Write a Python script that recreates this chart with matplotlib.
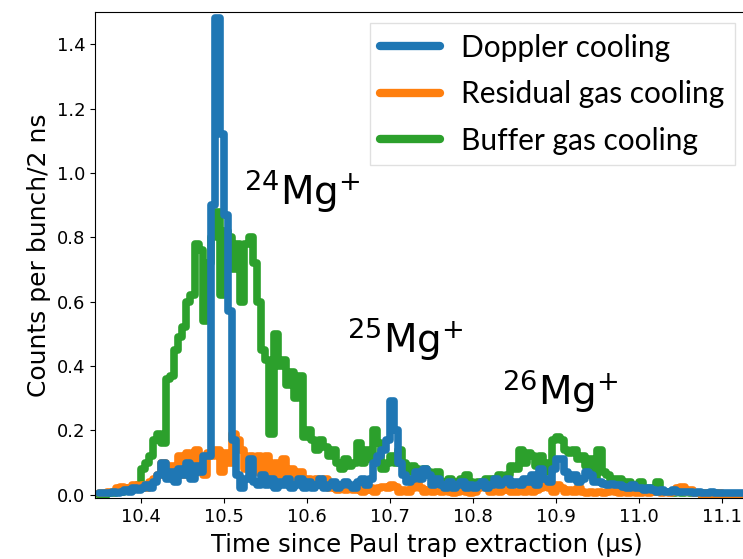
import numpy as np
import matplotlib
matplotlib.use("Agg")
import matplotlib.pyplot as plt

# 5 ns bins starting at 10.350 us
t0, dt = 10.35, 0.005
doppler = [
    0.005, 0.005, 0.005, 0.01, 0.005, 0.01, 0.015, 0.01, 0.02, 0.015,
    0.02, 0.03, 0.02, 0.04, 0.06, 0.10, 0.05, 0.07, 0.04, 0.08,
    0.06, 0.10, 0.05, 0.09, 0.07, 0.12, 0.12, 0.90, 1.48, 1.12,
    0.87, 0.57, 0.17, 0.06, 0.02, 0.05, 0.11, 0.04, 0.03, 0.06,
    0.03, 0.05, 0.02, 0.04, 0.03, 0.05, 0.02, 0.03, 0.05, 0.02,
    0.04, 0.02, 0.03, 0.05, 0.02, 0.03, 0.04, 0.02, 0.03, 0.04,
    0.03, 0.02, 0.04, 0.05, 0.03, 0.05, 0.10, 0.12, 0.14, 0.17,
    0.29, 0.20, 0.10, 0.06, 0.04, 0.05, 0.07, 0.05, 0.08, 0.06,
    0.03, 0.05, 0.03, 0.02, 0.04, 0.02, 0.03, 0.04, 0.02, 0.03,
    0.02, 0.03, 0.04, 0.02, 0.03, 0.05, 0.03, 0.04, 0.05, 0.03,
    0.04, 0.03, 0.05, 0.04, 0.06, 0.03, 0.08, 0.05, 0.04, 0.08,
    0.11, 0.11, 0.07, 0.05, 0.06, 0.04, 0.05, 0.07, 0.06, 0.04,
    0.04, 0.035, 0.03, 0.035, 0.03, 0.03, 0.025, 0.02, 0.03, 0.02,
    0.02, 0.015, 0.02, 0.015, 0.01, 0.015, 0.01, 0.01, 0.015, 0.01,
    0.01, 0.01, 0.01, 0.005, 0.01, 0.005, 0.005, 0.01, 0.005, 0.005,
    0.005, 0.005, 0.005, 0.005, 0.005, 0.005, 0.005, 0.005, 0.005, 0.005,
]
residual = [
    0.005, 0.005, 0.01, 0.01, 0.02, 0.025, 0.02, 0.015, 0.03, 0.025,
    0.03, 0.02, 0.04, 0.05, 0.06, 0.10, 0.07, 0.09, 0.08, 0.12,
    0.06, 0.13, 0.09, 0.14, 0.11, 0.06, 0.13, 0.12, 0.14, 0.07,
    0.13, 0.10, 0.19, 0.17, 0.14, 0.08, 0.12, 0.07, 0.12, 0.06,
    0.12, 0.05, 0.10, 0.06, 0.11, 0.07, 0.08, 0.05, 0.07, 0.04,
    0.05, 0.03, 0.05, 0.04, 0.05, 0.02, 0.03, 0.015, 0.02, 0.015,
    0.02, 0.015, 0.02, 0.01, 0.015, 0.02, 0.01, 0.02, 0.025, 0.02,
    0.03, 0.025, 0.01, 0.015, 0.01, 0.02, 0.045, 0.02, 0.01, 0.015,
    0.01, 0.02, 0.01, 0.015, 0.01, 0.005, 0.01, 0.02, 0.01, 0.005,
    0.01, 0.02, 0.025, 0.02, 0.01, 0.015, 0.01, 0.02, 0.015, 0.01,
    0.01, 0.015, 0.01, 0.02, 0.01, 0.015, 0.02, 0.03, 0.02, 0.01,
    0.03, 0.02, 0.01, 0.015, 0.01, 0.02, 0.01, 0.005, 0.01, 0.005,
    0.01, 0.005, 0.01, 0.02, 0.01, 0.005, 0.01, 0.005, 0.01, 0.005,
    0.005, 0.01, 0.005, 0.01, 0.01, 0.005, 0.01, 0.005, 0.01, 0.02,
    0.025, 0.01, 0.015, 0.005, 0.005, 0.0, 0.005, 0.0, 0.0, 0.005,
    0.0, 0.0, 0.0, 0.0, 0.0, 0.0, 0.0, 0.0, 0.0, 0.0,
]
buffer = [
    0.0, 0.0, 0.005, 0.005, 0.01, 0.01, 0.015, 0.02, 0.02, 0.03,
    0.08, 0.10, 0.12, 0.17, 0.19, 0.16, 0.36, 0.37, 0.45, 0.49,
    0.52, 0.60, 0.62, 0.78, 0.76, 0.54, 0.72, 0.80, 0.88, 0.62,
    0.82, 0.80, 0.70, 0.78, 0.60, 0.78, 0.80, 0.72, 0.60, 0.45,
    0.42, 0.19, 0.50, 0.40, 0.42, 0.34, 0.38, 0.30, 0.37, 0.18,
    0.20, 0.17, 0.14, 0.17, 0.15, 0.12, 0.14, 0.10, 0.08, 0.11,
    0.09, 0.10, 0.16, 0.10, 0.14, 0.11, 0.20, 0.16, 0.08, 0.10,
    0.12, 0.10, 0.14, 0.10, 0.07, 0.09, 0.08, 0.06, 0.08, 0.07,
    0.06, 0.07, 0.04, 0.04, 0.05, 0.03, 0.04, 0.05, 0.06, 0.04,
    0.03, 0.04, 0.03, 0.05, 0.05, 0.04, 0.06, 0.05, 0.06, 0.09,
    0.08, 0.14, 0.10, 0.13, 0.12, 0.09, 0.12, 0.10, 0.07, 0.17,
    0.18, 0.17, 0.14, 0.13, 0.14, 0.11, 0.12, 0.09, 0.11, 0.05,
    0.14, 0.07, 0.06, 0.04, 0.05, 0.05, 0.03, 0.04, 0.03, 0.02,
    0.04, 0.02, 0.02, 0.01, 0.04, 0.01, 0.01, 0.01, 0.005, 0.01,
    0.005, 0.01, 0.005, 0.005, 0.005, 0.0, 0.005, 0.0, 0.005, 0.0,
    0.0, 0.0, 0.0, 0.0, 0.0, 0.0, 0.0, 0.0, 0.0, 0.0,
]
labels = ["Doppler cooling", "Residual gas cooling", "Buffer gas cooling"]
colors = ["#1f77b4", "#ff7f0e", "#2ca02c"]
isotopes = [(10.525, 0.90, "24"), (10.648, 0.44, "25"), (10.835, 0.28, "26")]

t = t0 + dt * np.arange(len(doppler))

fig = plt.figure(figsize=(7.43, 5.59), dpi=100)
ax = fig.add_axes([95/743, 61/559, 668.5/743, 486/559])

kw = dict(drawstyle="steps-post", lw=5.5, solid_capstyle="round", solid_joinstyle="round")
l3, = ax.plot(t, buffer, color=colors[2], label=labels[2], **kw)
l2, = ax.plot(t, residual, color=colors[1], label=labels[1], **kw)
l1, = ax.plot(t, doppler, color=colors[0], label=labels[0], **kw)

for x, y, a in isotopes:
    ax.text(x, y, r"$^{%s}$Mg$^{+}$" % a, fontsize=28, ha="left", va="baseline")

ax.set_xlim(10.345, 11.15)
ax.set_ylim(-0.01, 1.5)
ax.set_xticks([10.4, 10.5, 10.6, 10.7, 10.8, 10.9, 11.0, 11.1])
ax.set_yticks([0.0, 0.2, 0.4, 0.6, 0.8, 1.0, 1.2, 1.4])
ax.tick_params(labelsize=13)
ax.set_xlabel("Time since Paul trap extraction (μs)", fontsize=17.5)
ax.set_ylabel("Counts per bunch/2 ns", fontsize=18)
ax.xaxis.set_label_coords(0.497, -0.072)

leg = ax.legend(handles=[l1, l2, l3], loc="upper left", bbox_to_anchor=(0.411, 0.977),
                borderaxespad=0, prop={"family": "Lato", "size": 21.5},
                handlelength=2.0, handletextpad=0.7, borderpad=0.35,
                labelspacing=0.62, fancybox=False, edgecolor="0.85")
for h in leg.get_lines():
    h.set_linewidth(6)

fig.savefig("out.png", dpi=100)
